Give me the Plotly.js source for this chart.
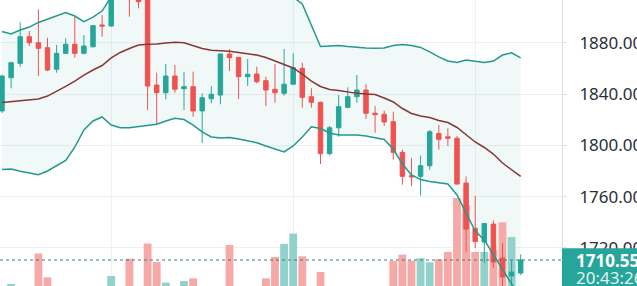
<!DOCTYPE html>
<html><head><meta charset="utf-8">
<script src="https://cdn.plot.ly/plotly-3.0.1.min.js"></script>
<style>html,body{margin:0;padding:0;background:#fff;overflow:hidden}#chart{width:637px;height:286px}</style>
</head><body><div id="chart"></div>
<script>
// ---- data ----
const open  = [1826.8,1852.7,1863.9,1884.7,1880.0,1876.1,1859.3,1871.7,1878.8,1871.7,1876.9,1893.8,1893.0,1920.0,1930.0,1920.0,1915.0,1847.0,1841.0,1854.0,1844.1,1845.7,1826.8,1836.3,1839.2,1871.2,1868.6,1853.5,1855.6,1850.4,1843.7,1840.5,1847.6,1860.0,1837.9,1833.5,1793.5,1813.7,1829.6,1837.9,1843.1,1825.0,1824.2,1818.4,1794.5,1776.3,1775.8,1784.1,1809.2,1806.7,1805.5,1770.6,1735.3,1724.6,1738.6,1712.1,1698.1,1700.4];
const high  = [1855.0,1865.2,1895.9,1889.1,1906.0,1883.9,1878.2,1883.4,1900.3,1886.0,1893.8,1901.6,1923.0,1932.0,1934.0,1924.0,1917.0,1856.6,1863.4,1862.6,1857.4,1857.4,1840.5,1846.2,1871.5,1874.9,1868.9,1867.3,1861.3,1853.5,1863.4,1875.1,1871.7,1864.4,1844.5,1834.0,1815.1,1839.2,1845.2,1854.8,1847.6,1830.6,1827.0,1826.2,1796.6,1790.1,1791.9,1811.9,1815.8,1813.3,1807.3,1775.7,1760.5,1739.3,1741.4,1723.8,1709.8,1714.9];
const low   = [1825.2,1844.4,1861.3,1877.4,1854.0,1857.9,1856.6,1871.0,1868.3,1871.0,1876.1,1884.7,1892.5,1916.0,1900.3,1906.8,1827.5,1816.4,1835.9,1841.0,1827.5,1822.3,1801.8,1832.8,1832.0,1857.9,1836.1,1846.2,1848.3,1830.6,1833.2,1838.7,1847.3,1829.3,1829.3,1785.4,1792.2,1806.7,1828.9,1833.2,1820.5,1809.8,1815.1,1788.8,1769.3,1768.0,1760.7,1781.0,1796.6,1799.5,1769.5,1716.8,1719.9,1708.2,1704.3,1685.6,1688.0,1699.0];
const close = [1854.0,1864.4,1884.7,1880.0,1875.6,1858.7,1871.7,1878.8,1871.7,1877.4,1893.3,1893.0,1920.0,1928.0,1918.0,1912.0,1846.2,1841.0,1854.0,1843.7,1845.7,1826.8,1837.1,1839.8,1871.2,1868.3,1853.5,1855.4,1849.6,1843.1,1841.0,1847.6,1860.5,1837.4,1833.5,1793.5,1813.7,1830.1,1837.9,1843.1,1825.0,1823.9,1818.2,1794.5,1775.8,1775.3,1784.1,1810.6,1804.7,1805.5,1769.8,1734.7,1725.0,1739.0,1709.0,1697.3,1701.2,1710.55];
const volume = [800,1600,1000,900,4650,2270,800,1000,700,900,1100,1200,2400,1000,4130,1200,5650,3800,1750,1100,1900,2170,900,1000,1200,5500,800,1100,1200,2170,4300,5620,6650,4370,1000,2800,900,1200,1000,800,1100,1300,1000,3900,4530,3930,4180,3780,4070,4800,10200,9500,4800,4800,5000,7770,6300,600];
const bbUpper  = [1888.7,1886.8,1889.9,1892.2,1895.8,1898.5,1900.8,1903.5,1900.8,1896.5,1900.0,1904.7,1916.0,1930,1936,1940,1944,1946,1947,1947,1946,1945,1944,1942,1940,1938,1936,1934,1932,1930,1928,1924,1915.5,1910.2,1893.0,1877.0,1877.4,1877.8,1877.0,1876.3,1875.9,1875.6,1875.9,1877.8,1878.6,1877.8,1876.3,1872.8,1868.9,1865.7,1864.6,1866.5,1865.7,1864.6,1865.7,1870.4,1872.1,1868.1];
const bbMiddle = [1833.4,1834.2,1834.5,1835.3,1836.1,1838.4,1842.0,1845.9,1850.1,1854.8,1858.7,1862.2,1868.1,1872.4,1875.5,1878.2,1878.8,1879.0,1879.8,1880.3,1880.0,1877.8,1875.5,1874.1,1873.9,1873.3,1872.4,1871.6,1870.4,1868.5,1865.7,1863.0,1860.3,1855.6,1850.1,1845.9,1843.5,1842.7,1841.6,1840.5,1840.0,1839.6,1836.9,1833.8,1828.7,1824.8,1822.9,1821.7,1819.3,1817.8,1813.9,1808.0,1802.6,1798.3,1793.2,1786.2,1780.7,1775.7];
const bbLower  = [1781.1,1781.5,1779.7,1778.4,1777.1,1780.0,1783.9,1788.2,1798.6,1812.0,1819.0,1822.1,1815.8,1813.7,1813.7,1814.7,1815.4,1816.4,1819.0,1821.1,1820.1,1815.8,1810.4,1806.5,1805.7,1806.1,1804.9,1803.4,1802.0,1799.5,1797.1,1794.8,1799.5,1806.5,1814.5,1813.1,1809.6,1808.0,1808.0,1808.0,1807.3,1806.1,1804.5,1797.1,1785.4,1776.9,1773.3,1771.8,1770.6,1769.8,1761.3,1747.2,1733.2,1726.2,1714.5,1702.8,1691.9,1681.7];
const priceTicks = [1720, 1760, 1800, 1840, 1880];
const lastTime = "20:43:26";

// ---- derived ----
const bars = open.map((_, i) => i);
const lastPrice = close[close.length - 1];
const UP = '#26a69a', DOWN = '#ef5350';
const volColors = close.map((c, i) => c >= open[i] ? '#92d2cc' : '#f7a9a7');

const W = 637, H = 286, R = 75, PW = W - R;
const yRange = [1690.3, 1913.3];
const xRange = [-0.22, 61.54];
const pyPaper = px => 1 - px / H;
const FONT = 'Noto Sans, sans-serif';

const traces = [
  {x: bars, y: bbUpper, type: 'scatter', mode: 'lines', line: {width: 0, color: 'rgba(0,0,0,0)'}, xaxis: 'x', yaxis: 'y', hoverinfo: 'skip'},
  {x: bars, y: bbLower, type: 'scatter', mode: 'lines', line: {width: 0, color: 'rgba(0,0,0,0)'}, fill: 'tonexty', fillcolor: 'rgba(38,166,154,0.065)', xaxis: 'x', yaxis: 'y', hoverinfo: 'skip'},
  {x: bars, y: volume, type: 'bar', width: 0.86, marker: {color: volColors, line: {width: 0}}, xaxis: 'x', yaxis: 'y2', hoverinfo: 'skip'},
  {x: bars, open: open, high: high, low: low, close: close, type: 'candlestick', xaxis: 'x', yaxis: 'y3',
   increasing: {line: {color: UP, width: 1}, fillcolor: UP},
   decreasing: {line: {color: DOWN, width: 1}, fillcolor: DOWN}, whiskerwidth: 0, hoverinfo: 'skip'},
  {x: bars, y: bbUpper, type: 'scatter', mode: 'lines', line: {width: 1.5, color: '#22998d'}, xaxis: 'x', yaxis: 'y3', hoverinfo: 'skip'},
  {x: bars, y: bbLower, type: 'scatter', mode: 'lines', line: {width: 1.5, color: '#22998d'}, xaxis: 'x', yaxis: 'y3', hoverinfo: 'skip'},
  {x: bars, y: bbMiddle, type: 'scatter', mode: 'lines', line: {width: 1.5, color: '#8a3535'}, xaxis: 'x', yaxis: 'y3', hoverinfo: 'skip'}
];

const layout = {
  width: W, height: H,
  margin: {l: 0, r: R, t: 0, b: 0, pad: 0},
  paper_bgcolor: '#ffffff', plot_bgcolor: '#ffffff',
  showlegend: false, hovermode: false,
  font: {family: FONT, size: 17, color: '#2a2e39'},
  xaxis: {range: xRange, tickmode: 'array', tickvals: [12, 32, 52], showticklabels: false,
          showgrid: true, gridcolor: '#eef0f3', gridwidth: 1, zeroline: false, showline: false,
          rangeslider: {visible: false}, fixedrange: true},
  yaxis: {range: yRange, side: 'right', tickmode: 'array', tickvals: priceTicks, tickformat: '.2f',
          showgrid: true, gridcolor: '#eef0f3', zeroline: false, showline: true, linecolor: '#dcdfe4', linewidth: 1,
          ticks: 'outside', ticklen: 4, tickcolor: '#dcdfe4', ticklabelstandoff: 9,
          tickfont: {family: FONT, size: 17, color: '#2a2e39'}, fixedrange: true},
  yaxis2: {range: [1400, 30000], overlaying: 'y', side: 'right', visible: false, showgrid: false, zeroline: false, fixedrange: true},
  yaxis3: {range: yRange, overlaying: 'y', side: 'right', visible: false, showgrid: false, zeroline: false, fixedrange: true},
  shapes: [
    {type: 'line', xref: 'paper', yref: 'y3', x0: 0, x1: 1, y0: lastPrice, y1: lastPrice,
     line: {color: '#3f7c76', width: 1, dash: 'dot'}, layer: 'above'},
    {type: 'rect', xref: 'paper', yref: 'paper', x0: 1, x1: 1.2, y0: -0.1, y1: pyPaper(248.3),
     fillcolor: UP, line: {width: 0}, layer: 'above'}
  ],
  annotations: [
    {xref: 'paper', yref: 'paper', x: 575 / PW, y: pyPaper(260), xanchor: 'left', yanchor: 'middle',
     text: '<b>' + lastPrice.toFixed(2) + '</b>', showarrow: false,
     font: {family: FONT, size: 17, color: '#ffffff'}, borderpad: 0},
    {xref: 'paper', yref: 'paper', x: 575 / PW, y: pyPaper(277.5), xanchor: 'left', yanchor: 'middle',
     text: lastTime, showarrow: false,
     font: {family: FONT, size: 17, color: 'rgba(255,255,255,0.88)'}, borderpad: 0}
  ]
};

Plotly.newPlot('chart', traces, layout, {displayModeBar: false, staticPlot: true});
</script>
</body></html>
